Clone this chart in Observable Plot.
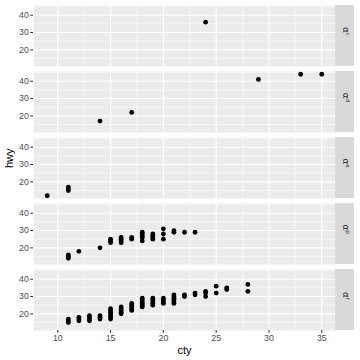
<!DOCTYPE html>
<html>
<head>
<meta charset="utf-8">
<script src="https://cdn.jsdelivr.net/npm/d3@7"></script>
<script src="https://cdn.jsdelivr.net/npm/@observablehq/plot@0.6"></script>
<style>
  html, body { margin: 0; padding: 0; background: white; }
  #chart svg { display: block; }
</style>
</head>
<body>
<div id="chart"></div>
<script>
// Fuel types (facet rows) and strip labels
const fuels = ["c", "d", "e", "p", "r"];
const stripLabels = ["αᶜ", "αᵈ", "αᵉ", "αᵖ", "αʳ"];

// Points per fuel type: city mpg and highway mpg
const ctyC = [24];
const hwyC = [36];

const ctyD = [14, 17, 29, 33, 35];
const hwyD = [17, 22, 41, 44, 44];

const ctyE = [9, 11, 11, 11];
const hwyE = [12, 15, 16, 17];

const ctyP = [11, 11, 11, 12, 14, 15, 15, 15, 16, 16, 16, 16, 17, 17,
              18, 18, 18, 18, 18, 19, 19, 19, 19, 20, 20, 20, 21, 21, 22, 23];
const hwyP = [14, 15, 16, 18, 20, 23, 24, 25, 23, 24, 25, 26, 25, 26,
              24, 26, 27, 28, 29, 25, 26, 27, 28, 25, 28, 31, 29, 30, 29, 29];

const ctyR = [11, 11, 11, 12, 12, 12, 13, 13, 13, 13, 14, 14, 14,
              15, 15, 15, 15, 15, 15, 15, 16, 16, 16, 16, 16,
              17, 17, 17, 17, 17, 18, 18, 18, 18, 18, 18,
              19, 19, 19, 19, 19, 20, 20, 20, 20,
              21, 21, 21, 21, 21, 21, 22, 22, 23, 23, 24, 24, 24,
              25, 25, 26, 26, 28, 28];
const hwyR = [15, 16, 17, 16, 17, 18, 16, 17, 18, 19, 17, 18, 19,
              17, 18, 19, 20, 21, 22, 23, 20, 21, 22, 23, 24,
              22, 23, 24, 25, 26, 24, 25, 26, 27, 28, 29,
              25, 26, 27, 28, 29, 26, 27, 28, 29,
              26, 27, 28, 29, 30, 31, 30, 31, 31, 32, 30, 32, 33,
              32, 36, 34, 35, 33, 37];

// Axis ticks and grid breaks
const xTicks = [10, 15, 20, 25, 30, 35];
const xMinor = [12.5, 17.5, 22.5, 27.5, 32.5];
const yTicks = [20, 30, 40];
const yMinor = [15, 25, 35, 45];

// Build a tidy table from the arrays
const series = [[ctyC, hwyC], [ctyD, hwyD], [ctyE, hwyE], [ctyP, hwyP], [ctyR, hwyR]];
const points = [];
fuels.forEach((f, i) => {
  const [cs, hs] = series[i];
  cs.forEach((c, j) => points.push({fl: f, cty: c, hwy: hs[j]}));
});
const strips = fuels.map((f, i) => ({fl: f, label: stripLabels[i]}));

const allCty = points.map(d => d.cty), allHwy = points.map(d => d.hwy);
const ex = (lo, hi) => [lo - (hi - lo) * 0.05, hi + (hi - lo) * 0.05];
const xDom = ex(d3.min(allCty), d3.max(allCty));
const yDom = ex(d3.min(allHwy), d3.max(allHwy));

const W = 360, H = 360;
const mL = 33, mR = 25, mT = 5, mB = 30.5;
const panelW = W - mL - mR;
const stripW = 19;
const font = "'Liberation Sans', Arial, Helvetica, sans-serif";

const chart = Plot.plot({
  width: W,
  height: H,
  marginLeft: mL,
  marginRight: mR,
  marginTop: mT,
  marginBottom: mB,
  style: {fontFamily: font, background: "white"},
  x: {domain: xDom},
  y: {domain: yDom},
  fy: {domain: fuels, axis: null, paddingInner: 5.5 / 66, paddingOuter: 0},
  marks: [
    Plot.frame({fill: "#EBEBEB"}),
    Plot.ruleX(xMinor, {stroke: "white", strokeWidth: 0.55}),
    Plot.ruleY(yMinor, {stroke: "white", strokeWidth: 0.55}),
    Plot.ruleX(xTicks, {stroke: "white", strokeWidth: 1.1}),
    Plot.ruleY(yTicks, {stroke: "white", strokeWidth: 1.1}),
    Plot.dot(points, {x: "cty", y: "hwy", fy: "fl", r: 2.4, fill: "black", stroke: "none"}),
    // strips
    Plot.rect(strips, {fy: "fl", fill: "#D9D9D9", insetLeft: panelW, insetRight: -stripW}),
    Plot.text(strips, {fy: "fl", text: "label", frameAnchor: "right", dx: stripW / 2 + 0.5,
      rotate: 90, fill: "#1A1A1A", fontSize: 8.8, fontFamily: "DejaVu Sans"}),
    // axes
    Plot.axisX(xTicks, {anchor: "bottom", facetAnchor: "bottom", label: null, tickSize: 2.7,
      tickPadding: 1.5, stroke: "#333333", strokeWidth: 1.07, fill: "#4D4D4D", fontSize: 8.8}),
    Plot.axisY(yTicks, {anchor: "left", label: null, tickSize: 2.7,
      tickPadding: 2, stroke: "#333333", strokeWidth: 1.07, fill: "#4D4D4D", fontSize: 8.8}),
    // axis titles
    Plot.text([{fl: "e", t: "hwy"}], {fy: "fl", text: "t", frameAnchor: "left", dx: -24.5,
      rotate: -90, fill: "black", fontSize: 11}),
    Plot.text([{fl: "r", t: "cty"}], {fy: "fl", text: "t", frameAnchor: "bottom", dy: 19.5,
      lineAnchor: "middle", fill: "black", fontSize: 11})
  ]
});
document.getElementById("chart").appendChild(chart);
</script>
</body>
</html>
